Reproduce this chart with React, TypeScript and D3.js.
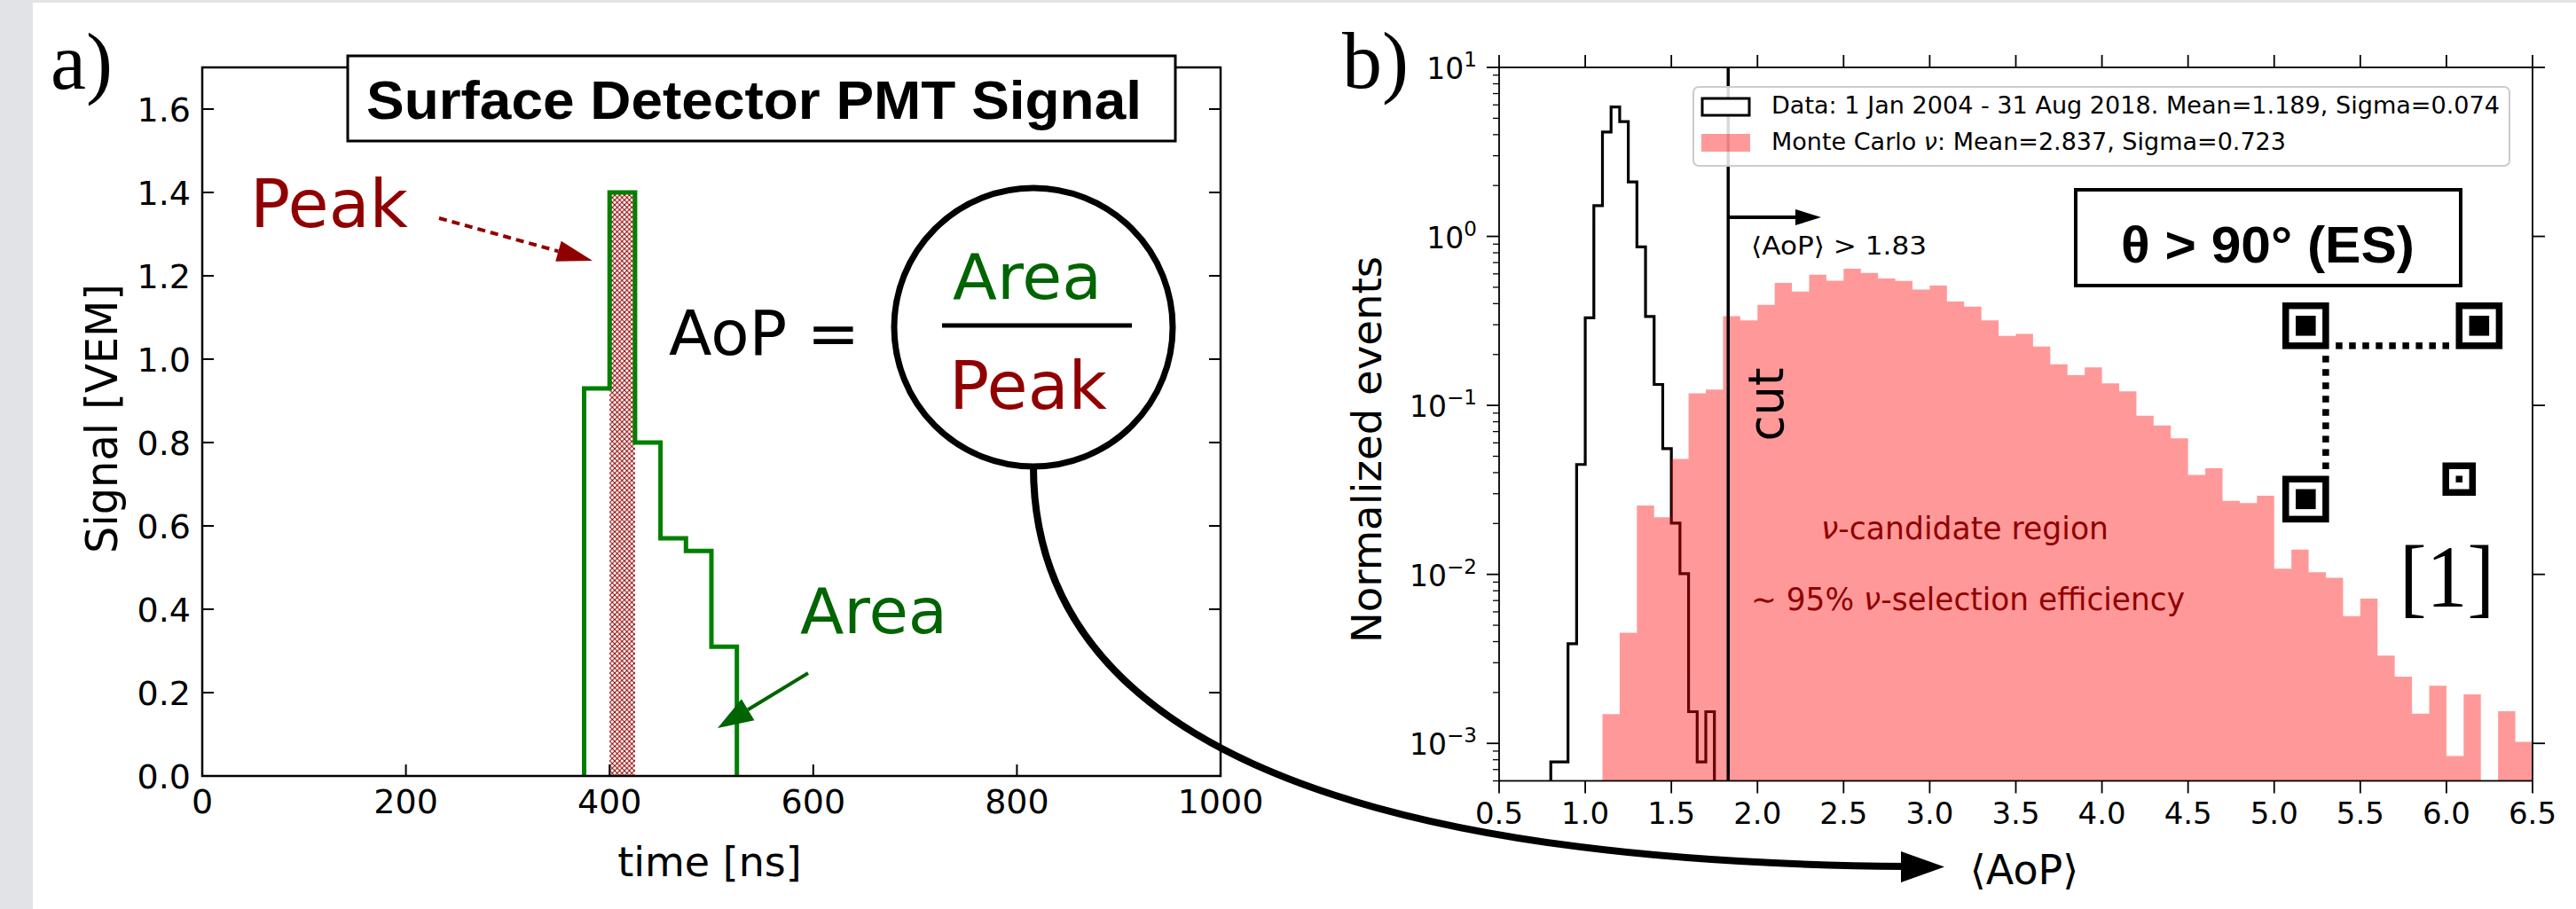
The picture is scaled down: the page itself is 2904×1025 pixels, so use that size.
import React, { useEffect, useRef } from 'react';
import * as d3 from 'd3';

// ---- panel a: PMT trace (25 ns bins) ----
const pmtBinStart = [375, 400, 425, 450, 475, 500];
const pmtSignal = [0.93, 1.4, 0.8, 0.57, 0.54, 0.31];
const pmtBinWidth = 25;
const peakBinIndex = 1;
const timeTicks = [0, 200, 400, 600, 800, 1000];
const signalTicks = [0, 0.2, 0.4, 0.6, 0.8, 1.0, 1.2, 1.4, 1.6];

// ---- panel b: AoP histograms (normalized) ----
const dataBinStart = 0.8;
const dataBinWidth = 0.05;
const dataDensity = [
  0.000776, 0.000776, 0.00389, 0.0447, 0.33, 1.52, 4.15, 5.83, 4.78, 2.1,
  0.867, 0.336, 0.133, 0.0555, 0.0201, 0.0101, 0.00154, 0.000776, 0.00154,
];
const mcBinStart = 1.1;
const mcBinWidth = 0.1;
const mcDensity = [
  0.00149, 0.00452, 0.0256, 0.0218, 0.0482, 0.118, 0.124, 0.337, 0.318, 0.393,
  0.53, 0.471, 0.593, 0.547, 0.643, 0.607, 0.563, 0.545, 0.485, 0.511,
  0.412, 0.384, 0.318, 0.258, 0.265, 0.223, 0.175, 0.151, 0.168, 0.135,
  0.121, 0.0868, 0.076, 0.0639, 0.0388, 0.0425, 0.0272, 0.0264, 0.0292, 0.0108,
  0.014, 0.0103, 0.00954, 0.00566, 0.00719, 0.00331, 0.00248, 0.0015, 0.00219, 0.000841,
  0.00195, 0, 0.00155, 0.00102,
];
const aopTicks = [0.5, 1.0, 1.5, 2.0, 2.5, 3.0, 3.5, 4.0, 4.5, 5.0, 5.5, 6.0, 6.5];
const decadeTicks = [-3, -2, -1, 0, 1];
const aopCut = 1.83;
const legendData = 'Data: 1 Jan 2004 - 31 Aug 2018. Mean=1.189, Sigma=0.074';
const legendMc = ['Monte Carlo ', 'ν', ': Mean=2.837, Sigma=0.723'];

const W = 2904;
const H = 1025;
const SANS = '"DejaVu Sans", sans-serif';
const ARIAL = '"Liberation Sans", Arial, sans-serif';
const SERIF = '"Liberation Serif", serif';
const DARKRED = '#900000';
const GREEN = '#008000';
const DARKGREEN = '#006400';

export default function App() {
  const ref = useRef<SVGSVGElement>(null);

  useEffect(() => {
    const svg = d3.select(ref.current);
    svg.selectAll('*').remove();

    const defs = svg.append('defs');
    const hatch = defs
      .append('pattern')
      .attr('id', 'xhatch')
      .attr('patternUnits', 'userSpaceOnUse')
      .attr('width', 5.5)
      .attr('height', 5.5);
    hatch.append('rect').attr('width', 5.5).attr('height', 5.5).attr('fill', 'white');
    hatch
      .append('path')
      .attr('d', 'M0,0L5.5,5.5M5.5,0L0,5.5')
      .attr('stroke', DARKRED)
      .attr('stroke-width', 1);

    // page background
    svg.append('rect').attr('width', W).attr('height', H).attr('fill', '#e1e3e6');
    svg.append('rect').attr('x', 37).attr('y', 3).attr('width', W - 37).attr('height', H - 3).attr('fill', 'white');

    const text = (
      g: any,
      x: number,
      y: number,
      s: string,
      size: number,
      opts: { anchor?: string; family?: string; weight?: string; fill?: string; len?: number; transform?: string } = {}
    ) => {
      const t = g
        .append('text')
        .attr('x', x)
        .attr('y', y)
        .attr('font-size', size)
        .attr('font-family', opts.family || SANS)
        .attr('font-weight', opts.weight || 'normal')
        .attr('fill', opts.fill || 'black')
        .attr('text-anchor', opts.anchor || 'start')
        .text(s);
      if (opts.len) t.attr('textLength', opts.len).attr('lengthAdjust', 'spacingAndGlyphs');
      if (opts.transform) t.attr('transform', opts.transform);
      return t;
    };

    const arrowHead = (g: any, from: [number, number], tip: [number, number], len: number, half: number, fill: string) => {
      const dx = tip[0] - from[0];
      const dy = tip[1] - from[1];
      const d = Math.hypot(dx, dy);
      const ux = dx / d;
      const uy = dy / d;
      const bx = tip[0] - ux * len;
      const by = tip[1] - uy * len;
      g.append('path')
        .attr('d', `M${tip[0]},${tip[1]}L${bx - uy * half},${by + ux * half}L${bx + uy * half},${by - ux * half}Z`)
        .attr('fill', fill);
      return [bx, by];
    };

    // ================= panel a =================
    const xa = d3.scaleLinear().domain([0, 1000]).range([228, 1376]);
    const ya = d3.scaleLinear().domain([0, 1.7]).range([875, 76]);
    const ga = svg.append('g');

    ga.append('rect')
      .attr('x', xa(pmtBinStart[peakBinIndex]))
      .attr('y', ya(pmtSignal[peakBinIndex]))
      .attr('width', xa(pmtBinStart[peakBinIndex] + pmtBinWidth) - xa(pmtBinStart[peakBinIndex]))
      .attr('height', ya(0) - ya(pmtSignal[peakBinIndex]))
      .attr('fill', 'url(#xhatch)');

    const stepPts: [number, number][] = [[pmtBinStart[0], 0]];
    pmtBinStart.forEach((t, i) => {
      stepPts.push([t, pmtSignal[i]]);
      stepPts.push([t + pmtBinWidth, pmtSignal[i]]);
    });
    stepPts.push([pmtBinStart[pmtBinStart.length - 1] + pmtBinWidth, 0]);
    ga.append('path')
      .attr('d', d3.line<[number, number]>().x((d) => xa(d[0])).y((d) => ya(d[1]))(stepPts))
      .attr('fill', 'none')
      .attr('stroke', GREEN)
      .attr('stroke-width', 5);

    ga.append('rect')
      .attr('x', xa(0))
      .attr('y', ya(1.7))
      .attr('width', xa(1000) - xa(0))
      .attr('height', ya(0) - ya(1.7))
      .attr('fill', 'none')
      .attr('stroke', 'black')
      .attr('stroke-width', 2.5);

    signalTicks.forEach((v) => {
      ga.append('line').attr('x1', xa(0)).attr('x2', xa(0) + 13).attr('y1', ya(v)).attr('y2', ya(v)).attr('stroke', 'black').attr('stroke-width', 2);
      ga.append('line').attr('x1', xa(1000)).attr('x2', xa(1000) - 13).attr('y1', ya(v)).attr('y2', ya(v)).attr('stroke', 'black').attr('stroke-width', 2);
      text(ga, 215, ya(v) + 14, v.toFixed(1), 38, { anchor: 'end' });
    });
    timeTicks.forEach((t) => {
      ga.append('line').attr('x1', xa(t)).attr('x2', xa(t)).attr('y1', ya(0)).attr('y2', ya(0) - 13).attr('stroke', 'black').attr('stroke-width', 2);
      ga.append('line').attr('x1', xa(t)).attr('x2', xa(t)).attr('y1', ya(1.7)).attr('y2', ya(1.7) + 13).attr('stroke', 'black').attr('stroke-width', 2);
      text(ga, xa(t), 917, String(t), 38, { anchor: 'middle' });
    });
    text(ga, 0, 0, 'Signal [VEM]', 50, { anchor: 'middle', len: 304, transform: 'translate(132,472) rotate(-90)' });
    text(ga, 800, 988, 'time [ns]', 46, { anchor: 'middle' });
    text(svg, 57, 100, 'a)', 90, { family: SERIF });

    // title box
    ga.append('rect').attr('x', 392).attr('y', 63).attr('width', 933).attr('height', 96).attr('fill', 'white').attr('stroke', 'black').attr('stroke-width', 3);
    text(ga, 413, 134, 'Surface Detector PMT Signal', 62, { family: ARIAL, weight: 'bold', len: 874 });

    // annotations
    text(ga, 282, 256, 'Peak', 74, { fill: DARKRED, len: 178 });
    const pkFrom: [number, number] = [495, 246];
    const pkTip: [number, number] = [668, 294];
    const pkBase = arrowHead(ga, pkFrom, pkTip, 40, 12, DARKRED);
    ga.append('line')
      .attr('x1', pkFrom[0]).attr('y1', pkFrom[1]).attr('x2', pkBase[0]).attr('y2', pkBase[1])
      .attr('stroke', DARKRED).attr('stroke-width', 4).attr('stroke-dasharray', '9,6');

    text(ga, 754, 400, 'AoP =', 70, { len: 215 });
    ga.append('circle').attr('cx', 1165).attr('cy', 369).attr('r', 157).attr('fill', 'white').attr('stroke', 'black').attr('stroke-width', 7);
    text(ga, 1158, 337, 'Area', 72, { anchor: 'middle', fill: DARKGREEN, len: 168 });
    ga.append('line').attr('x1', 1062).attr('x2', 1276).attr('y1', 367).attr('y2', 367).attr('stroke', 'black').attr('stroke-width', 5);
    text(ga, 1159, 461, 'Peak', 74, { anchor: 'middle', fill: DARKRED, len: 178 });

    text(ga, 902, 714, 'Area', 72, { fill: DARKGREEN, len: 166 });
    const arFrom: [number, number] = [911, 759];
    const arTip: [number, number] = [809, 821];
    const arBase = arrowHead(ga, arFrom, arTip, 40, 14, DARKGREEN);
    ga.append('line')
      .attr('x1', arFrom[0]).attr('y1', arFrom[1]).attr('x2', arBase[0]).attr('y2', arBase[1])
      .attr('stroke', DARKGREEN).attr('stroke-width', 4);

    // ================= panel b =================
    const xb = d3.scaleLinear().domain([0.5, 6.5]).range([1690, 2855]);
    const yb = d3.scaleLog().domain([6e-4, 10]).range([880.5, 76]);
    const gb = svg.append('g');
    defs.append('clipPath').attr('id', 'clipb').append('rect')
      .attr('x', xb(0.5)).attr('y', yb(10)).attr('width', xb(6.5) - xb(0.5)).attr('height', yb(6e-4) - yb(10));
    const plot = gb.append('g').attr('clip-path', 'url(#clipb)');
    const bottom = yb(6e-4);
    const yv = (v: number) => (v > 0 ? yb(v) : bottom);

    // data step outline
    let dPath = `M${xb(dataBinStart)},${bottom}`;
    dataDensity.forEach((v, i) => {
      const x0 = xb(dataBinStart + i * dataBinWidth);
      const x1 = xb(dataBinStart + (i + 1) * dataBinWidth);
      dPath += `L${x0},${yv(v)}L${x1},${yv(v)}`;
    });
    dPath += `L${xb(dataBinStart + dataDensity.length * dataBinWidth)},${bottom}`;
    plot.append('path').attr('d', dPath).attr('fill', 'none').attr('stroke', 'black').attr('stroke-width', 3.2);

    // MC filled histogram
    let mPath = `M${xb(mcBinStart)},${bottom}`;
    mcDensity.forEach((v, i) => {
      const x0 = xb(mcBinStart + i * mcBinWidth);
      const x1 = xb(mcBinStart + (i + 1) * mcBinWidth);
      mPath += `L${x0},${yv(v)}L${x1},${yv(v)}`;
    });
    mPath += `L${xb(mcBinStart + mcDensity.length * mcBinWidth)},${bottom}Z`;
    plot.append('path').attr('d', mPath).attr('fill', 'red').attr('fill-opacity', 0.4);

    // cut
    plot.append('line').attr('x1', xb(aopCut)).attr('x2', xb(aopCut)).attr('y1', yb(10)).attr('y2', bottom).attr('stroke', 'black').attr('stroke-width', 3.5);
    const cutTip: [number, number] = [2053, 245];
    const cutBase = arrowHead(gb, [xb(aopCut), 245], cutTip, 29, 9, 'black');
    gb.append('line').attr('x1', xb(aopCut)).attr('x2', cutBase[0]).attr('y1', 245).attr('y2', 245).attr('stroke', 'black').attr('stroke-width', 4);
    text(gb, 1974, 287, '⟨AoP⟩ > 1.83', 28, { len: 198 });
    text(gb, 0, 0, 'cut', 56, { anchor: 'middle', len: 83, transform: 'translate(2010,456) rotate(-90)' });

    const cand = text(gb, 2053, 608, '', 35, { fill: DARKRED, len: 324 });
    cand.append('tspan').attr('font-style', 'italic').text('ν');
    cand.append('tspan').text('-candidate region');
    const eff = text(gb, 1974, 688, '', 35, { fill: DARKRED, len: 489 });
    eff.append('tspan').text('∼ 95% ');
    eff.append('tspan').attr('font-style', 'italic').text('ν');
    eff.append('tspan').text('-selection efficiency');

    // frame
    gb.append('rect')
      .attr('x', xb(0.5)).attr('y', yb(10)).attr('width', xb(6.5) - xb(0.5)).attr('height', bottom - yb(10))
      .attr('fill', 'none').attr('stroke', 'black').attr('stroke-width', 1.8);

    aopTicks.forEach((t) => {
      gb.append('line').attr('x1', xb(t)).attr('x2', xb(t)).attr('y1', bottom).attr('y2', bottom + 14).attr('stroke', 'black').attr('stroke-width', 1.8);
      gb.append('line').attr('x1', xb(t)).attr('x2', xb(t)).attr('y1', yb(10)).attr('y2', yb(10) - 14).attr('stroke', 'black').attr('stroke-width', 1.8);
      text(gb, xb(t), 929, t.toFixed(1), 34, { anchor: 'middle' });
    });
    decadeTicks.forEach((k) => {
      const y = yb(Math.pow(10, k));
      gb.append('line').attr('x1', xb(0.5)).attr('x2', xb(0.5) - 14).attr('y1', y).attr('y2', y).attr('stroke', 'black').attr('stroke-width', 1.8);
      gb.append('line').attr('x1', xb(6.5)).attr('x2', xb(6.5) + 14).attr('y1', y).attr('y2', y).attr('stroke', 'black').attr('stroke-width', 1.8);
      const lab = text(gb, 1665, y + 13, '', 33, { anchor: 'end' });
      lab.append('tspan').text('10');
      lab.append('tspan').attr('font-size', 23).attr('dy', -14).text(k < 0 ? `−${-k}` : String(k));
    });
    for (let k = -4; k <= 0; k++) {
      for (let m = 2; m <= 9; m++) {
        const v = m * Math.pow(10, k);
        if (v < 6e-4 || v > 10) continue;
        const y = yb(v);
        gb.append('line').attr('x1', xb(0.5)).attr('x2', xb(0.5) - 7).attr('y1', y).attr('y2', y).attr('stroke', 'black').attr('stroke-width', 1.3);
      }
    }
    text(gb, 0, 0, 'Normalized events', 47, { anchor: 'middle', len: 436, transform: 'translate(1557,507) rotate(-90)' });
    text(gb, 2282, 997, '⟨AoP⟩', 46, { anchor: 'middle' });
    text(svg, 1513, 99, 'b)', 90, { family: SERIF });

    // legend
    gb.append('rect').attr('x', 1909).attr('y', 98).attr('width', 920).attr('height', 89).attr('rx', 6)
      .attr('fill', 'white').attr('fill-opacity', 0.85).attr('stroke', '#cccccc').attr('stroke-width', 2);
    gb.append('rect').attr('x', 1919).attr('y', 111).attr('width', 53).attr('height', 19).attr('fill', 'white').attr('stroke', 'black').attr('stroke-width', 3);
    gb.append('rect').attr('x', 1918).attr('y', 151).attr('width', 55).attr('height', 20).attr('fill', 'red').attr('fill-opacity', 0.4);
    text(gb, 1997, 128, legendData, 26, { len: 821 });
    const mcText = text(gb, 1997, 169, '', 26, { len: 580 });
    mcText.append('tspan').text(legendMc[0]);
    mcText.append('tspan').attr('font-style', 'italic').text(legendMc[1]);
    mcText.append('tspan').text(legendMc[2]);

    // theta box
    gb.append('rect').attr('x', 2340).attr('y', 214).attr('width', 434).attr('height', 108).attr('fill', 'white').attr('stroke', 'black').attr('stroke-width', 4);
    text(gb, 2391, 296, 'θ > 90° (ES)', 58, { family: ARIAL, weight: 'bold', len: 331 });

    // QR code (finder/timing/alignment patterns)
    const qx = 2573;
    const qy = 341;
    const mod = 7.52;
    const qr = gb.append('g');
    const cell = (c: number, r: number, w = 1, h = 1) =>
      qr.append('rect').attr('x', qx + c * mod).attr('y', qy + r * mod).attr('width', w * mod).attr('height', h * mod).attr('fill', 'black');
    [[0, 0], [26, 0], [0, 26]].forEach(([c, r]) => {
      cell(c, r, 7, 7);
      qr.append('rect').attr('x', qx + (c + 1) * mod).attr('y', qy + (r + 1) * mod).attr('width', 5 * mod).attr('height', 5 * mod).attr('fill', 'white');
      cell(c + 2, r + 2, 3, 3);
    });
    cell(24, 24, 5, 5);
    qr.append('rect').attr('x', qx + 25 * mod).attr('y', qy + 25 * mod).attr('width', 3 * mod).attr('height', 3 * mod).attr('fill', 'white');
    cell(26, 26);
    for (let i = 8; i < 25; i += 2) {
      cell(i, 6);
      cell(6, i);
    }
    text(gb, 2705, 684, '[1]', 100, { family: SERIF, len: 107 });

    // connecting arrow from the AoP circle to the x-axis label
    svg.append('path')
      .attr('d', 'M1165,526Q1165,970 2150,977')
      .attr('fill', 'none').attr('stroke', 'black').attr('stroke-width', 8);
    svg.append('path').attr('d', 'M2143,960L2192,977.5L2143,995Z').attr('fill', 'black');
  }, []);

  return <svg ref={ref} width={W} height={H} style={{ position: 'absolute', left: 0, top: 0 }} />;
}
